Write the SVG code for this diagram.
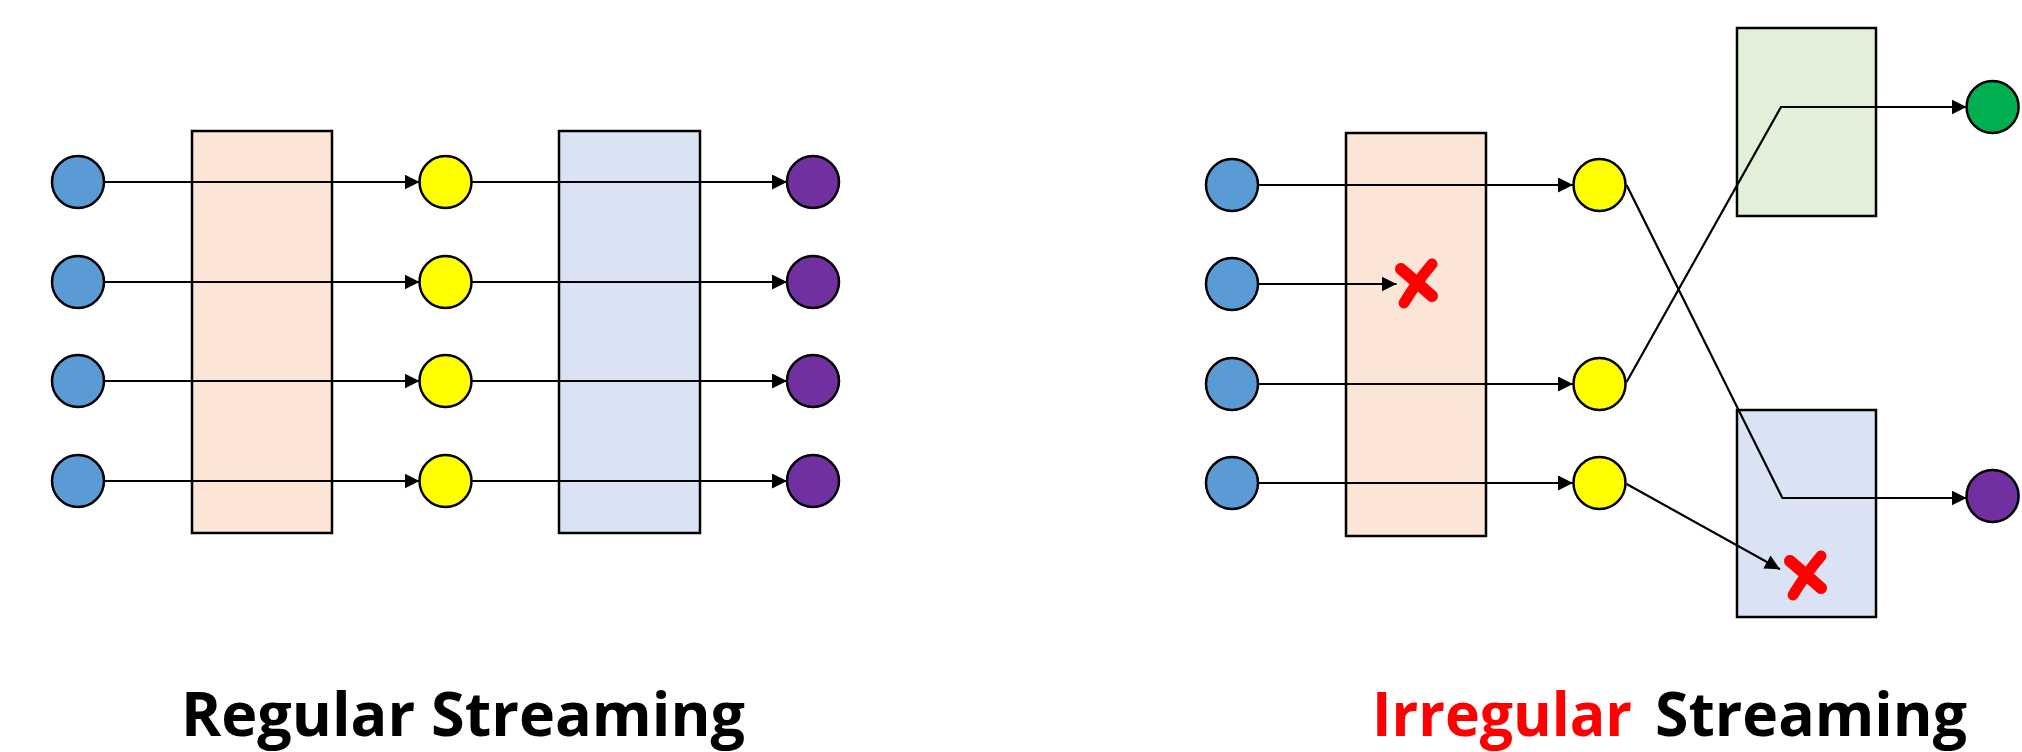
<svg xmlns="http://www.w3.org/2000/svg" xmlns:xlink="http://www.w3.org/1999/xlink" width="2022" height="752" viewBox="0 0 2022 752">
<style>
.box{stroke:#000;stroke-width:2.5}
.nd{stroke:#000;stroke-width:2.5}
.blue{fill:#5B9BD5}.yel{fill:#FFFF00}.pur{fill:#7030A0}.grn{fill:#00B050}
.or{fill:#FBE5D6}.lb{fill:#DAE3F3}.lg{fill:#E2F0D9}
.cn{fill:none;stroke:#000;stroke-width:2.2;marker-end:url(#arr)}
.ttl{font-family:"Open Sans","Noto Sans","Liberation Sans",sans-serif;font-weight:bold;font-size:60px}
</style>
<defs>
<marker id="arr" markerUnits="userSpaceOnUse" markerWidth="16" markerHeight="16" refX="15" refY="7.5" orient="auto"><path d="M0,0 L15,7.5 L0,15 z" fill="#000"/></marker>
<g id="xm" fill="none" stroke="#FF0000" stroke-linecap="round" stroke-linejoin="round">
<path d="M-16,-14 Q-2,-2 15,13" stroke-width="12"/>
<path d="M15,-19 Q-1,0 -13,20" stroke-width="11"/>
</g>
</defs>
<rect width="2022" height="752" fill="#fff"/>

<g id="left-op1"><rect class="box or" x="192" y="131" width="140" height="402"/></g>
<g id="left-op2"><rect class="box lb" x="559" y="131" width="141" height="402"/></g>

<g id="left-connectors">
<line class="cn" x1="104" y1="182" x2="419.5" y2="182"/>
<line class="cn" x1="104" y1="282" x2="419.5" y2="282"/>
<line class="cn" x1="104" y1="381" x2="419.5" y2="381"/>
<line class="cn" x1="104" y1="481" x2="419.5" y2="481"/>
<line class="cn" x1="471.5" y1="182" x2="787" y2="182"/>
<line class="cn" x1="471.5" y1="282" x2="787" y2="282"/>
<line class="cn" x1="471.5" y1="381" x2="787" y2="381"/>
<line class="cn" x1="471.5" y1="481" x2="787" y2="481"/>
</g>

<g id="left-in1"><circle class="nd blue" cx="78" cy="182" r="26"/></g>
<g id="left-in2"><circle class="nd blue" cx="78" cy="282" r="26"/></g>
<g id="left-in3"><circle class="nd blue" cx="78" cy="381" r="26"/></g>
<g id="left-in4"><circle class="nd blue" cx="78" cy="481" r="26"/></g>
<g id="left-mid1"><circle class="nd yel" cx="445.5" cy="182" r="26"/></g>
<g id="left-mid2"><circle class="nd yel" cx="445.5" cy="282" r="26"/></g>
<g id="left-mid3"><circle class="nd yel" cx="445.5" cy="381" r="26"/></g>
<g id="left-mid4"><circle class="nd yel" cx="445.5" cy="481" r="26"/></g>
<g id="left-out1"><circle class="nd pur" cx="813" cy="182" r="26"/></g>
<g id="left-out2"><circle class="nd pur" cx="813" cy="282" r="26"/></g>
<g id="left-out3"><circle class="nd pur" cx="813" cy="381" r="26"/></g>
<g id="left-out4"><circle class="nd pur" cx="813" cy="481" r="26"/></g>

<g id="right-op1"><rect class="box or" x="1346" y="133" width="140" height="403"/></g>
<g id="right-op-green"><rect class="box lg" x="1737" y="28" width="139" height="188"/></g>
<g id="right-op-blue"><rect class="box lb" x="1737" y="410" width="139" height="207"/></g>

<g id="right-connectors">
<line class="cn" x1="1258" y1="185" x2="1573" y2="185"/>
<line class="cn" x1="1258" y1="284" x2="1396.5" y2="284"/>
<line class="cn" x1="1258" y1="384" x2="1573" y2="384"/>
<line class="cn" x1="1258" y1="483" x2="1573" y2="483"/>
<polyline class="cn" points="1626.6,185 1782.4,498 1966.6,498"/>
<polyline class="cn" points="1626.6,382 1781,107 1966.6,107"/>
<line class="cn" x1="1626.6" y1="484" x2="1780" y2="569.3"/>
</g>

<g id="right-in1"><circle class="nd blue" cx="1232" cy="185" r="26"/></g>
<g id="right-in2"><circle class="nd blue" cx="1232" cy="284" r="26"/></g>
<g id="right-in3"><circle class="nd blue" cx="1232" cy="384" r="26"/></g>
<g id="right-in4"><circle class="nd blue" cx="1232" cy="483" r="26"/></g>
<g id="right-mid1"><circle class="nd yel" cx="1599.5" cy="185" r="26"/></g>
<g id="right-mid3"><circle class="nd yel" cx="1599.5" cy="384" r="26"/></g>
<g id="right-mid4"><circle class="nd yel" cx="1599.5" cy="483" r="26"/></g>
<g id="right-out-green"><circle class="nd grn" cx="1992.6" cy="107" r="26"/></g>
<g id="right-out-purple"><circle class="nd pur" cx="1992.6" cy="496" r="26"/></g>

<g id="drops">
<use xlink:href="#xm" href="#xm" x="1417" y="283"/>
<use xlink:href="#xm" href="#xm" x="1806" y="575"/>
</g>

<g id="titles">
<text class="ttl" x="181" y="736" textLength="564" lengthAdjust="spacingAndGlyphs" fill="#000">Regular Streaming</text>
<text class="ttl" x="1372" y="736" textLength="260" lengthAdjust="spacingAndGlyphs" fill="#FF0000">Irregular</text>
<text class="ttl" x="1655" y="736" textLength="312" lengthAdjust="spacingAndGlyphs" fill="#000">Streaming</text>
</g>
</svg>
